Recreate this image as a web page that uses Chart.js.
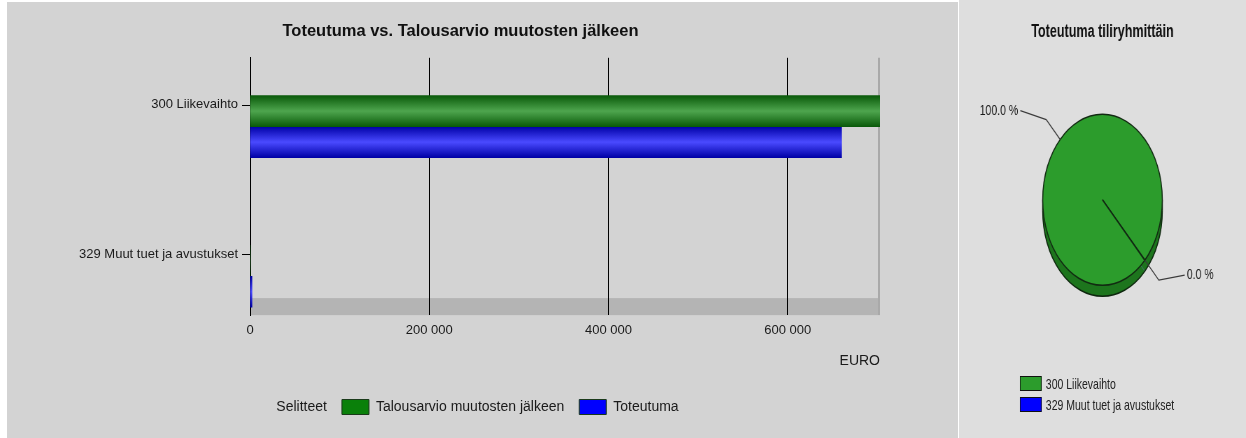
<!DOCTYPE html>
<html>
<head>
<meta charset="utf-8">
<script src="https://cdn.jsdelivr.net/npm/chart.js@4.4.1/dist/chart.umd.min.js"></script>
<style>
html,body{margin:0;padding:0;background:#fff;width:1246px;height:438px;overflow:hidden;font-family:"Liberation Sans",Arial,sans-serif;}
#left{position:absolute;left:7px;top:2px;width:951px;height:436px;background:#d3d3d3;}
#right{position:absolute;left:959px;top:0;width:287px;height:438px;background:#dedede;overflow:hidden;}
#pieWrap{position:absolute;left:0;top:0;width:410px;height:438px;transform:scaleX(0.7);transform-origin:0 0;}
#pieLegend{position:absolute;left:87px;top:373px;font:15px "Liberation Sans",Arial,sans-serif;color:#222;}
.li{display:flex;align-items:center;height:21px;white-space:nowrap;}
.sw{width:31px;height:15px;border:1px solid #111;margin-right:6px;box-sizing:border-box;}
</style>
</head>
<body>
<div id="left"><canvas id="bar"></canvas></div>
<div id="right"><div id="pieWrap"><canvas id="pie"></canvas><div id="pieLegend"></div></div></div>
<script>
// ---- data ----
const categories = ['300 Liikevaihto', '329 Muut tuet ja avustukset'];
const seriesNames = ['Talousarvio muutosten jälkeen', 'Toteutuma'];
const budgetValues = [703000, 0];
const actualValues = [660000, 200];
const xTickValues = [0, 200000, 400000, 600000];
const legendTitle = 'Selitteet';
const barTitle = 'Toteutuma vs. Talousarvio muutosten jälkeen';
const xAxisTitle = 'EURO';
const pieTitle = 'Toteutuma tiliryhmittäin';

// ---- styles ----
const FONT = '"Liberation Sans", Arial, sans-serif';
const BAR_T = 31;
const seriesDark = ['#0a5a0a', '#0000a6'];
const seriesLight = ['#4ea54e', '#4a4aff'];
const seriesLegend = ['#0a800a', '#0000ff'];
const pieColors = ['#2c9c2c', '#0000ff'];
const pieDepthColors = ['#1d751d', '#0000a0'];
const PIE_DEPTH = 11;

const fmt = v => String(v).replace(/\B(?=(\d{3})+(?!\d))/g, ' ');

function barFill(i) {
  return (c) => {
    const chart = c.chart, y = chart.scales.y;
    if (c.type !== 'data' || !y) return seriesLight[i];
    const center = y.getPixelForValue(c.dataIndex);
    if (!isFinite(center)) return seriesLight[i];
    const top = i === 0 ? center - BAR_T : center;
    const g = chart.ctx.createLinearGradient(0, top, 0, top + BAR_T);
    g.addColorStop(0, seriesDark[i]);
    g.addColorStop(0.5, seriesLight[i]);
    g.addColorStop(1, seriesDark[i]);
    return g;
  };
}

const barDecor = {
  id: 'barDecor',
  beforeDraw(chart) {
    const {ctx, chartArea: a} = chart;
    ctx.save();
    ctx.fillStyle = '#b4b4b4';
    ctx.fillRect(a.left, a.bottom - 17, a.right - a.left, 17);
    ctx.strokeStyle = '#a9a9a9';
    ctx.lineWidth = 2;
    ctx.beginPath();
    ctx.moveTo(a.right - 1, a.top);
    ctx.lineTo(a.right - 1, a.bottom);
    ctx.stroke();
    ctx.restore();
  },
  afterDraw(chart) {
    const {ctx, chartArea: a} = chart;
    const y = chart.scales.y;
    const off = y.options.ticks.labelOffset;
    ctx.save();
    ctx.strokeStyle = '#000';
    ctx.lineWidth = 1;
    y.ticks.forEach(t => {
      const py = Math.round(y.getPixelForValue(t.value) + off) + 0.5;
      ctx.beginPath();
      ctx.moveTo(a.left - 8, py);
      ctx.lineTo(a.left, py);
      ctx.stroke();
    });
    ctx.restore();
  }
};

new Chart(document.getElementById('bar'), {
  type: 'bar',
  data: {
    datasets: [
      {
        label: seriesNames[0],
        data: budgetValues.map((v, i) => ({x: v, y: i})),
        backgroundColor: barFill(0),
        borderWidth: 0,
        barThickness: BAR_T
      },
      {
        label: seriesNames[1],
        data: actualValues.map((v, i) => ({x: v, y: i})),
        backgroundColor: barFill(1),
        borderWidth: 0,
        barThickness: BAR_T,
        minBarLength: 2
      }
    ]
  },
  options: {
    indexAxis: 'y',
    responsive: true,
    maintainAspectRatio: false,
    animation: false,
    devicePixelRatio: 1,
    events: [],
    layout: {padding: {left: 34, right: 78, top: 0, bottom: 13.5}},
    scales: {
      x: {
        type: 'linear',
        position: 'bottom',
        min: 0,
        max: Math.max(...budgetValues),
        afterBuildTicks: s => { s.ticks = xTickValues.map(v => ({value: v})); },
        ticks: {callback: v => fmt(v), color: '#1a1a1a', font: {family: FONT, size: 13}, padding: 8},
        grid: {color: '#000', lineWidth: 1, drawTicks: false},
        border: {display: false},
        title: {display: true, text: xAxisTitle, align: 'end', color: '#1a1a1a', font: {family: FONT, size: 14}, padding: {top: 6, bottom: 15}}
      },
      y: {
        type: 'linear',
        position: 'left',
        reverse: true,
        offset: false,
        min: -0.46,
        max: 1.26,
        afterBuildTicks: s => { s.ticks = categories.map((c, i) => ({value: i})); },
        afterFit: s => { s.width = 209; },
        ticks: {callback: v => categories[v], color: '#1a1a1a', font: {family: FONT, size: 13}, padding: 12, labelOffset: -22},
        grid: {drawOnChartArea: false, drawTicks: false, offset: false},
        border: {display: true, color: '#000', width: 1}
      }
    },
    plugins: {
      title: {display: true, text: barTitle, color: '#111', font: {family: FONT, size: 16.5, weight: 'bold'}, padding: {top: 20, bottom: 16}},
      legend: {
        display: true,
        position: 'bottom',
        onClick: () => {},
        labels: {
          boxWidth: 27,
          boxHeight: 15,
          padding: 15,
          color: '#1a1a1a',
          font: {family: FONT, size: 14},
          generateLabels: chart => [
            {text: legendTitle, fillStyle: 'rgba(0,0,0,0)', strokeStyle: 'rgba(0,0,0,0)', lineWidth: 0, hidden: false, datasetIndex: null, fontColor: '#1a1a1a'}
          ].concat(chart.data.datasets.map((ds, i) => ({
            text: ds.label, fillStyle: seriesLegend[i], strokeStyle: '#1a3a1a', lineWidth: 1, hidden: false, datasetIndex: i, fontColor: '#1a1a1a'
          })))
        }
      },
      tooltip: {enabled: false}
    }
  },
  plugins: [barDecor]
});

// ---- pie ----
const pieDepth = {
  id: 'pieDepth',
  beforeDatasetsDraw(chart) {
    const meta = chart.getDatasetMeta(0);
    const ctx = chart.ctx;
    if (!meta.data.length) return;
    const {x, y, outerRadius: r} = meta.data[0];
    ctx.save();
    ctx.fillStyle = pieDepthColors[0];
    ctx.fillRect(x - r, y, 2 * r, PIE_DEPTH);
    meta.data.forEach((arc, i) => {
      ctx.fillStyle = pieDepthColors[i];
      ctx.beginPath();
      ctx.moveTo(arc.x, arc.y + PIE_DEPTH);
      ctx.arc(arc.x, arc.y + PIE_DEPTH, arc.outerRadius, arc.startAngle, arc.endAngle);
      ctx.closePath();
      ctx.fill();
    });
    ctx.strokeStyle = '#0d260d';
    ctx.lineWidth = 1.5;
    ctx.beginPath();
    ctx.arc(x, y + PIE_DEPTH, r, 0, Math.PI);
    ctx.stroke();
    ctx.beginPath();
    ctx.moveTo(x - r, y); ctx.lineTo(x - r, y + PIE_DEPTH);
    ctx.moveTo(x + r, y); ctx.lineTo(x + r, y + PIE_DEPTH);
    ctx.stroke();
    ctx.restore();
  }
};

const pieLabels = {
  id: 'pieLabels',
  afterDatasetsDraw(chart) {
    const meta = chart.getDatasetMeta(0);
    const ds = chart.data.datasets[0].data;
    const total = ds.reduce((a, b) => a + b, 0);
    const ctx = chart.ctx;
    ctx.save();
    ctx.strokeStyle = '#3a3a3a';
    ctx.lineWidth = 1.3;
    ctx.fillStyle = '#1a1a1a';
    ctx.font = '15px ' + FONT;
    ctx.textBaseline = 'middle';
    meta.data.forEach((arc, i) => {
      const mid = (arc.startAngle + arc.endAngle) / 2;
      const r = arc.outerRadius;
      const cx = Math.cos(mid), cy = Math.sin(mid);
      const side = cx >= 0 ? 1 : -1;
      const p1 = {x: arc.x + cx * r, y: arc.y + cy * r};
      const p2 = {x: arc.x + cx * r * 1.33, y: arc.y + cy * r * 1.33};
      const p3 = {x: p2.x + side * 37, y: p2.y + (side > 0 ? -5 : -9)};
      ctx.beginPath();
      ctx.moveTo(p1.x, p1.y);
      ctx.lineTo(p2.x, p2.y);
      ctx.lineTo(p3.x, p3.y);
      ctx.stroke();
      ctx.textAlign = side > 0 ? 'left' : 'right';
      ctx.fillText((ds[i] / total * 100).toFixed(1) + ' %', p3.x + side * 3, p3.y);
    });
    ctx.restore();
  }
};

new Chart(document.getElementById('pie'), {
  type: 'pie',
  data: {
    labels: categories,
    datasets: [{
      data: actualValues,
      backgroundColor: pieColors,
      borderColor: '#122a12',
      borderWidth: 1.5
    }]
  },
  options: {
    responsive: true,
    maintainAspectRatio: false,
    animation: false,
    devicePixelRatio: 1,
    events: [],
    rotation: 135,
    layout: {padding: {top: 0, bottom: 152, left: 0, right: 0}},
    plugins: {
      title: {display: true, text: pieTitle, color: '#111', font: {family: FONT, size: 18, weight: 'bold'}, padding: {top: 21, bottom: 71}},
      legend: {display: false},
      tooltip: {enabled: false}
    }
  },
  plugins: [pieDepth, pieLabels]
});

const lg = document.getElementById('pieLegend');
categories.forEach((c, i) => {
  const row = document.createElement('div');
  row.className = 'li';
  const sw = document.createElement('span');
  sw.className = 'sw';
  sw.style.background = pieColors[i];
  const tx = document.createElement('span');
  tx.textContent = c;
  row.appendChild(sw);
  row.appendChild(tx);
  lg.appendChild(row);
});
</script>
</body>
</html>
